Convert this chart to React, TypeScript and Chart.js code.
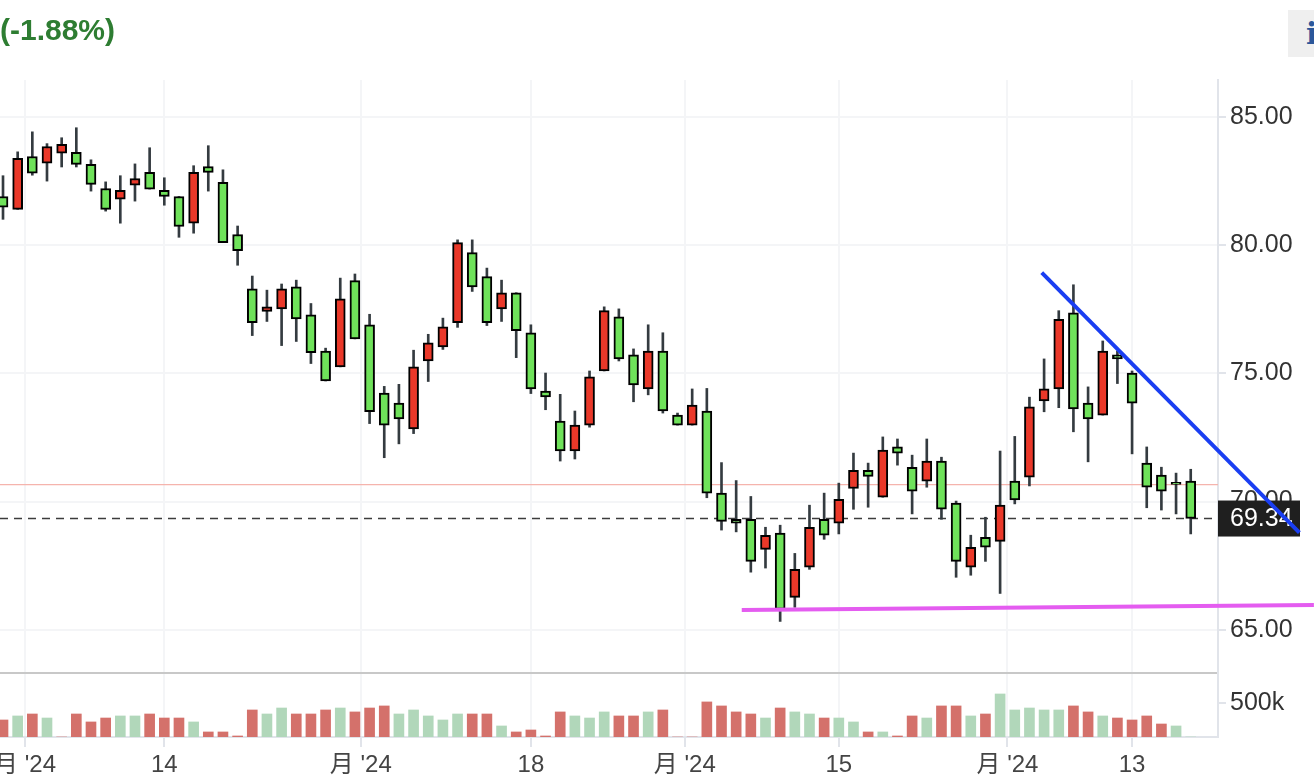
import React, { useEffect, useRef } from "react";
import { Chart, registerables } from "chart.js";

Chart.register(...registerables);

// ---- Data ----
const OPEN = [
  81.89, 81.39, 83.45, 83.19, 83.58, 83.61, 83.14, 82.2, 81.79, 82.33,
  82.83, 82.13, 81.89, 80.85, 83.06, 82.44, 80.41, 78.29, 77.41, 77.51,
  78.37, 77.28, 75.87, 75.25, 78.61, 76.89, 74.23, 73.84, 72.83, 75.48,
  76.03, 76.97, 79.7, 78.77, 77.51, 78.14, 76.58, 74.31, 73.14, 71.97,
  72.98, 75.09, 77.2, 75.72, 74.39, 75.87, 73.37, 72.98, 73.53, 70.33,
  69.31, 69.31, 68.14, 68.77, 66.27, 67.44, 69.31, 69.16, 70.51, 71.22,
  70.17, 72.13, 71.34, 70.8, 71.58, 69.94, 67.44, 68.61, 68.45, 70.8,
  70.95, 73.92, 74.39, 77.36, 73.84, 73.37, 75.72, 75.01, 71.5, 71.03,
  70.75, 70.8,
];
const HIGH = [
  82.7, 83.63, 84.41, 83.95, 84.18, 84.57, 83.32, 82.46, 82.7, 83.16,
  83.79, 82.62, 81.89, 83.09, 83.87, 82.93, 80.74, 78.79, 78.24, 78.48,
  78.63, 77.72, 75.98, 78.71, 78.87, 77.3, 74.49, 74.57, 75.9, 76.52,
  77.15, 80.2, 80.2, 79.1, 78.63, 78.14, 76.89, 75.01, 74.18, 73.53,
  75.09, 77.59, 77.51, 75.95, 76.89, 76.58, 73.45, 74.39, 74.41, 71.52,
  70.82, 70.2, 69.0, 69.08, 67.98, 69.86, 70.33, 70.72, 71.89, 71.5,
  72.52, 72.44, 71.81, 72.44, 71.73, 70.02, 68.69, 69.39, 71.97, 72.54,
  74.07, 75.56, 77.44, 78.45, 74.47, 76.26, 75.87, 75.09, 72.13, 71.34,
  71.11, 71.26,
];
const LOW = [
  81.0, 81.39, 82.72, 82.49, 83.04, 83.04, 82.1, 81.32, 80.85, 81.71,
  82.18, 81.55, 80.3, 80.46, 82.1, 80.09, 79.21, 76.47, 77.02, 76.08,
  76.24, 75.38, 74.7, 75.25, 76.34, 73.04, 71.71, 72.25, 72.65, 74.68,
  75.93, 76.79, 78.19, 76.86, 77.02, 75.61, 74.21, 73.58, 71.58, 71.66,
  72.9, 75.09, 75.48, 73.89, 74.16, 73.45, 72.98, 72.98, 70.15, 68.89,
  68.82, 67.25, 67.41, 65.33, 65.88, 67.36, 68.53, 68.74, 69.7, 69.78,
  70.17, 71.42, 69.52, 70.56, 69.31, 67.05, 67.13, 67.67, 66.42, 69.91,
  70.61, 73.5, 73.66, 72.72, 71.55, 73.37, 74.6, 71.86, 69.76, 69.67,
  69.52, 68.74,
];
const CLOSE = [
  81.47, 83.38, 82.8, 83.84, 83.92, 83.14, 82.36, 81.39, 82.13, 82.59,
  82.18, 81.89, 80.72, 82.83, 82.83, 80.09, 79.78, 76.97, 77.59, 78.29,
  77.12, 75.8, 74.7, 77.9, 76.34, 73.5, 72.98, 73.22, 75.25, 76.19,
  76.81, 80.09, 78.37, 76.97, 78.14, 76.66, 74.39, 74.08, 71.97, 72.98,
  74.86, 77.44, 75.56, 74.55, 75.87, 73.53, 72.98, 73.76, 70.33, 69.23,
  69.16, 67.67, 68.69, 65.8, 67.36, 69.0, 68.69, 70.09, 71.22, 70.98,
  72.01, 71.89, 70.41, 71.58, 69.7, 67.67, 68.22, 68.22, 69.86, 70.07,
  73.69, 74.39, 77.1, 73.61, 73.22, 75.87, 75.56, 73.84, 70.56, 70.41,
  70.67, 69.34,
];
// volume in shares
const VOLUME = [
  250000, 309000, 338000, 279000, 0, 338000, 221000, 279000, 309000, 309000,
  338000, 279000, 279000, 221000, 74000, 74000, 15000, 397000, 338000, 426000,
  338000, 338000, 397000, 426000, 368000, 426000, 456000, 338000, 397000, 309000,
  250000, 338000, 338000, 338000, 162000, 74000, 103000, 15000, 368000, 309000,
  279000, 368000, 309000, 309000, 368000, 397000, 0, 0, 515000, 456000,
  368000, 338000, 279000, 426000, 368000, 338000, 279000, 279000, 221000, 74000,
  74000, 15000, 309000, 279000, 456000, 456000, 309000, 338000, 632000, 397000,
  426000, 397000, 397000, 456000, 368000, 309000, 279000, 250000, 309000, 191000,
  162000, 0,
];
// volume bar colour: "u" = red, "d" = green
const VOLUME_DIR = [
  "u", "d", "u", "d", "u", "u", "u", "u", "d", "d",
  "u", "u", "u", "d", "u", "u", "u", "u", "d", "d",
  "u", "u", "u", "d", "u", "u", "u", "d", "d", "d",
  "d", "d", "u", "u", "d", "u", "u", "u", "u", "d",
  "d", "d", "u", "u", "d", "u", "u", "u", "u", "u",
  "u", "u", "d", "u", "d", "d", "u", "d", "d", "u",
  "d", "u", "u", "d", "u", "u", "d", "u", "d", "d",
  "d", "d", "d", "u", "u", "d", "u", "u", "u", "u",
  "d", "d",
];

const X_TICK_POS = [1.5, 11, 24.4, 36, 46.5, 57, 68.5, 77];
const X_TICK_LABELS = ["月 '24", "14", "月 '24", "18", "月 '24", "15", "月 '24", "13"];
const PRICE_TICKS = [65, 70, 75, 80, 85];
const VOLUME_TICKS = [500000];

const LAST_PRICE = 69.34;
const PREV_CLOSE = 70.66;
const CHANGE_TEXT = "(-1.88%)";

const X_MIN = -0.205;
const X_MAX = 82.86;
const PRICE_MIN = 63.32;
const PRICE_MAX = 86.43;
const VOLUME_MAX = 940000;

// drawn trend lines: [x index, price]
const RESISTANCE = [
  [70.84, 78.92],
  [88.41, 68.79],
];
const SUPPORT = [
  [50.38, 65.78],
  [89.4, 65.97],
];

const UP_COLOR = "#ea3829";
const DOWN_COLOR = "#6fe25a";
const VOL_UP = "#d4716b";
const VOL_DOWN = "#b1d7ba";
const FONT = "'Liberation Sans', 'Noto Sans CJK JP', Arial, sans-serif";

const priceTag = {
  id: "priceTag",
  beforeDatasetsDraw(chart: any) {
    const y = chart.scales.y;
    if (!y) return;
    const ctx = chart.ctx;
    const py = y.getPixelForValue(LAST_PRICE);
    const left = y.left;
    ctx.save();
    ctx.fillStyle = "#1f1f1f";
    ctx.fillRect(left, py - 18, 82, 36);
    ctx.fillStyle = "#ffffff";
    ctx.font = `25px ${FONT}`;
    ctx.textBaseline = "middle";
    ctx.textAlign = "left";
    ctx.fillText(LAST_PRICE.toFixed(2), left + 12, py + 1);
    ctx.restore();
  },
};

export default function App() {
  const ref = useRef<HTMLCanvasElement | null>(null);

  useEffect(() => {
    if (!ref.current) return;
    const idx = OPEN.map((_, i) => i);
    const chart = new Chart(ref.current, {
      type: "bar",
      data: {
        datasets: [
          {
            type: "line",
            data: RESISTANCE.map(([x, y]) => ({ x, y })),
            borderColor: "#1a3ef2",
            borderWidth: 4,
            pointRadius: 0,
            clip: false,
            yAxisID: "y",
            order: 0,
          } as any,
          {
            type: "line",
            data: SUPPORT.map(([x, y]) => ({ x, y })),
            borderColor: "#e45cf0",
            borderWidth: 4,
            pointRadius: 0,
            clip: false,
            yAxisID: "y",
            order: 0,
          } as any,
          {
            type: "bar",
            data: idx.map((i) => ({ x: i, y: [OPEN[i], CLOSE[i]] })),
            backgroundColor: idx.map((i) => (CLOSE[i] >= OPEN[i] ? UP_COLOR : DOWN_COLOR)),
            borderColor: "#000000",
            borderWidth: 2,
            borderSkipped: false,
            barThickness: 10,
            grouped: false,
            yAxisID: "y",
            order: 1,
          } as any,
          {
            type: "bar",
            data: idx.map((i) => ({ x: i, y: [LOW[i], HIGH[i]] })),
            backgroundColor: "#343b40",
            barThickness: 2,
            grouped: false,
            yAxisID: "y",
            order: 2,
          } as any,
          {
            type: "line",
            data: [
              { x: X_MIN, y: PREV_CLOSE },
              { x: X_MAX, y: PREV_CLOSE },
            ],
            borderColor: "#f5b4ad",
            borderWidth: 1.2,
            pointRadius: 0,
            yAxisID: "y",
            order: 3,
          } as any,
          {
            type: "line",
            data: [
              { x: X_MIN, y: LAST_PRICE },
              { x: X_MAX, y: LAST_PRICE },
            ],
            borderColor: "#3c3c3c",
            borderWidth: 1.6,
            borderDash: [8, 6],
            pointRadius: 0,
            yAxisID: "y",
            order: 3,
          } as any,
          {
            type: "bar",
            data: idx.map((i) => ({ x: i, y: VOLUME[i] })),
            backgroundColor: idx.map((i) => (VOLUME_DIR[i] === "u" ? VOL_UP : VOL_DOWN)),
            barThickness: 10,
            grouped: false,
            yAxisID: "yv",
            order: 4,
          } as any,
        ],
      },
      options: {
        animation: false,
        responsive: true,
        maintainAspectRatio: false,
        layout: { padding: { top: 80, left: 0, right: 0, bottom: 0 } },
        plugins: { legend: { display: false }, tooltip: { enabled: false } },
        scales: {
          x: {
            type: "linear",
            min: X_MIN,
            max: X_MAX,
            offset: false,
            grid: {
              offset: false,
              color: "#f4f5f7",
              lineWidth: 2,
              tickLength: 10,
              tickColor: "#e1e4ea",
            },
            border: { color: "#e1e4ea", width: 2 },
            ticks: {
              autoSkip: false,
              maxRotation: 0,
              minRotation: 0,
              padding: 4,
              color: "#444444",
              font: { size: 24, family: FONT },
              callback: (_v: any, i: number) => X_TICK_LABELS[i],
            },
            afterBuildTicks: (s: any) => {
              s.ticks = X_TICK_POS.map((v) => ({ value: v }));
            },
            afterFit: (s: any) => {
              s.height = 43;
              s.paddingLeft = 0;
              s.paddingRight = 0;
            },
          } as any,
          y: {
            type: "linear",
            position: "right",
            stack: "panes",
            stackWeight: 593,
            min: PRICE_MIN,
            max: PRICE_MAX,
            grid: {
              color: "#f4f5f7",
              lineWidth: 2,
              tickLength: 8,
              tickColor: "#e1e4ea",
            },
            border: { color: "#e1e4ea", width: 2 },
            ticks: {
              padding: 4,
              color: "#333333",
              font: { size: 25, family: FONT },
              callback: (v: any) => Number(v).toFixed(2),
            },
            afterBuildTicks: (s: any) => {
              s.ticks = PRICE_TICKS.map((v) => ({ value: v }));
            },
            afterFit: (s: any) => {
              s.width = 96;
            },
          } as any,
          yv: {
            type: "linear",
            position: "right",
            stack: "panes",
            stackWeight: 64,
            min: 0,
            max: VOLUME_MAX,
            grid: {
              color: (c: any) => (c.tick && c.tick.value === VOLUME_MAX ? "#c8c8c8" : "rgba(0,0,0,0)"),
              lineWidth: 2,
              tickLength: 8,
              tickColor: (c: any) => (c.tick && c.tick.value === VOLUME_MAX ? "rgba(0,0,0,0)" : "#e1e4ea"),
            },
            border: { color: "#e1e4ea", width: 2 },
            ticks: {
              padding: 4,
              color: "#333333",
              font: { size: 25, family: FONT },
              callback: (v: any) => (v === VOLUME_MAX ? "" : `${Math.round(Number(v) / 1000)}k`),
            },
            afterBuildTicks: (s: any) => {
              s.ticks = [...VOLUME_TICKS, VOLUME_MAX].map((v) => ({ value: v }));
            },
            afterFit: (s: any) => {
              s.width = 96;
            },
          } as any,
        },
      },
      plugins: [priceTag],
    } as any);
    return () => chart.destroy();
  }, []);

  return (
    <div style={{ position: "relative", width: 1314, height: 780, overflow: "hidden", background: "#fff" }}>
      <style>{`html,body{margin:0;padding:0;overflow:hidden;background:#fff}`}</style>
      <canvas ref={ref} />
      <div
        style={{
          position: "absolute",
          left: 0,
          top: 12,
          fontFamily: FONT,
          fontWeight: 700,
          fontSize: 30,
          color: "#2e7d32",
          lineHeight: "36px",
        }}
      >
        {CHANGE_TEXT}
      </div>
      <div
        style={{
          position: "absolute",
          left: 1288,
          top: 10,
          width: 60,
          height: 47,
          background: "#efefef",
          fontFamily: "'DejaVu Serif', serif",
          fontWeight: 700,
          fontSize: 30,
          color: "#2b579a",
          lineHeight: "47px",
          paddingLeft: 18,
          boxSizing: "border-box",
        }}
      >
        i
      </div>
    </div>
  );
}
